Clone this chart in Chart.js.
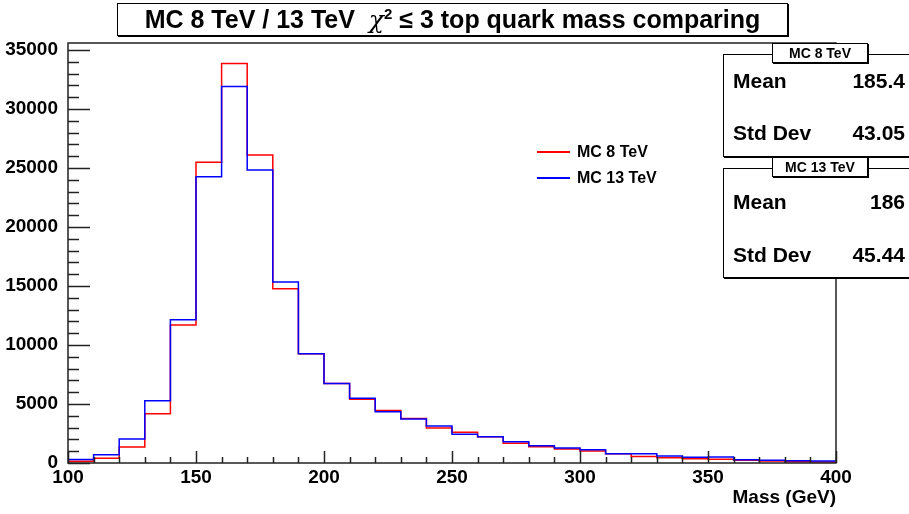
<!DOCTYPE html>
<html>
<head>
<meta charset="utf-8">
<script src="https://cdn.jsdelivr.net/npm/chart.js@4/dist/chart.umd.min.js"></script>
<style>
  body { margin: 0; background: #fff; }
  #wrap { position: relative; width: 909px; height: 514px; overflow: hidden; font-family: "Liberation Sans", Arial, Helvetica, sans-serif; font-weight: bold; color: #000; }
  #chart { position: absolute; left: 0; top: 0; }
  .box { position: absolute; background: #fff; border: 1px solid #000; box-shadow: 1px 1px 0 #000; }
  #title { left: 117px; top: 3px; width: 669px; height: 31px; font-size: 25px; line-height: 31px; text-align: center; white-space: nowrap; }
  .stat { width: 200px; }
  .stat-head { width: 94px; height: 18px; font-size: 14px; line-height: 18px; text-align: center; }
  .row { position: absolute; left: 9px; width: 172px; font-size: 21px; line-height: 22px; }
  .row span { position: absolute; right: 0; }
  .leg { position: absolute; left: 577px; font-size: 16px; line-height: 16px; white-space: nowrap; }
  .legline { position: absolute; left: 537px; width: 33px; height: 2px; }
</style>
</head>
<body>
<div id="wrap">
  <canvas id="chart" width="909" height="514"></canvas>
  <div id="title" class="box">MC 8 TeV / 13 TeV&nbsp; <i style="font-family:'DejaVu Serif',serif;font-weight:normal">χ</i><sup style="font-size:15px;line-height:0">2</sup> ≤ 3 top quark mass comparing</div>

  <div class="legline" style="top:151px; background:#ff0000;"></div>
  <div class="leg" style="top:144px;">MC 8 TeV</div>
  <div class="legline" style="top:177px; background:#0000ff;"></div>
  <div class="leg" style="top:170px;">MC 13 TeV</div>

  <div class="box stat" style="left:723px; top:54px; height:101px;">
    <div class="row" style="top:15px;">Mean<span id="mean8"></span></div>
    <div class="row" style="top:67px;">Std Dev<span id="std8"></span></div>
  </div>
  <div class="box stat-head" style="left:772px; top:43px;">MC 8 TeV</div>

  <div class="box stat" style="left:723px; top:168px; height:108px;">
    <div class="row" style="top:22px;">Mean<span id="mean13"></span></div>
    <div class="row" style="top:75px;">Std Dev<span id="std13"></span></div>
  </div>
  <div class="box stat-head" style="left:772px; top:157px;">MC 13 TeV</div>
</div>

<script>
// bin low edges (GeV), 10 GeV bins from 100 to 400
const binLow = [100, 110, 120, 130, 140, 150, 160, 170, 180, 190,
                200, 210, 220, 230, 240, 250, 260, 270, 280, 290,
                300, 310, 320, 330, 340, 350, 360, 370, 380, 390];
const binEnd = 400;

const mc8 = [150, 400, 1360, 4180, 11700, 25500, 33870, 26100, 14770, 9270,
             6740, 5410, 4460, 3780, 2960, 2600, 2230, 1670, 1380, 1190,
             1020, 790, 560, 450, 360, 310, 230, 170, 110, 85];
const mc13 = [300, 700, 2030, 5280, 12150, 24260, 31920, 24830, 15340, 9270,
              6740, 5490, 4350, 3730, 3140, 2430, 2230, 1810, 1470, 1270,
              1130, 790, 790, 590, 480, 510, 280, 230, 200, 170];

const stats8 = ['185.4', '43.05'];
const stats13 = ['186', '45.44'];

const yTicks = [0, 5000, 10000, 15000, 20000, 25000, 30000, 35000];
const xTicks = [100, 150, 200, 250, 300, 350, 400];

document.getElementById('mean8').textContent = stats8[0];
document.getElementById('std8').textContent = stats8[1];
document.getElementById('mean13').textContent = stats13[0];
document.getElementById('std13').textContent = stats13[1];

// histogram as a stepped line: one point per low edge plus the closing edge
const toSteps = (vals) => {
  const pts = binLow.map((x, i) => ({ x: x, y: vals[i] }));
  pts.push({ x: binEnd, y: vals[vals.length - 1] });
  return pts;
};

const tickFont = { family: "'Liberation Sans', Arial, Helvetica, sans-serif", size: 19, weight: 'bold' };

// ROOT style frame with inward ticks
const framePlugin = {
  id: 'frame',
  afterDatasetsDraw(chart) {
    const { ctx, chartArea: a, scales: { x, y } } = chart;
    ctx.save();
    ctx.strokeStyle = '#222';
    ctx.lineWidth = 1.5;
    ctx.beginPath();
    // y ticks: major every 5000, minor every 1000
    for (let v = 0; v <= y.max; v += 1000) {
      const py = Math.round(y.getPixelForValue(v)) + 0.5;
      const len = v % 5000 === 0 ? 22 : 11;
      ctx.moveTo(a.left, py);
      ctx.lineTo(a.left + len, py);
    }
    // x ticks: major every 50, minor every 10
    for (let v = x.min; v <= x.max; v += 10) {
      const px = Math.round(x.getPixelForValue(v)) + 0.5;
      const len = v % 50 === 0 ? 12 : 6;
      ctx.moveTo(px, a.bottom);
      ctx.lineTo(px, a.bottom - len);
    }
    ctx.stroke();
    ctx.strokeRect(a.left, a.top, a.right - a.left, a.bottom - a.top);
    ctx.restore();
  }
};

new Chart(document.getElementById('chart'), {
  type: 'line',
  data: {
    datasets: [
      {
        label: 'MC 8 TeV',
        data: toSteps(mc8),
        borderColor: '#ff0000',
        borderWidth: 1.5,
        stepped: true,
        pointRadius: 0,
        fill: false,
        order: 2
      },
      {
        label: 'MC 13 TeV',
        data: toSteps(mc13),
        borderColor: '#0000ff',
        borderWidth: 1.5,
        stepped: true,
        pointRadius: 0,
        fill: false,
        order: 1
      }
    ]
  },
  options: {
    responsive: false,
    animation: false,
    layout: { padding: { left: 0, top: 43, right: 73, bottom: 0 } },
    scales: {
      x: {
        type: 'linear',
        min: 100,
        max: 400,
        afterFit: (s) => { s.height = 51; },
        afterBuildTicks: (s) => { s.ticks = xTicks.map(v => ({ value: v })); },
        grid: { display: false, drawTicks: false },
        border: { display: false },
        ticks: { font: tickFont, color: '#000', padding: 3, maxRotation: 0, callback: (v) => String(v) },
        title: {
          display: true,
          text: 'Mass (GeV)',
          align: 'end',
          color: '#000',
          font: { family: tickFont.family, size: 19, weight: 'bold' },
          padding: { top: 0, bottom: 5 }
        }
      },
      y: {
        min: 0,
        max: 35600,
        afterFit: (s) => { s.width = 68; },
        afterBuildTicks: (s) => { s.ticks = yTicks.map(v => ({ value: v })); },
        grid: { display: false, drawTicks: false },
        border: { display: false },
        ticks: { font: tickFont, color: '#000', padding: 10, callback: (v) => String(v) }
      }
    },
    plugins: {
      legend: { display: false },
      tooltip: { enabled: false }
    }
  },
  plugins: [framePlugin]
});
</script>
</body>
</html>
